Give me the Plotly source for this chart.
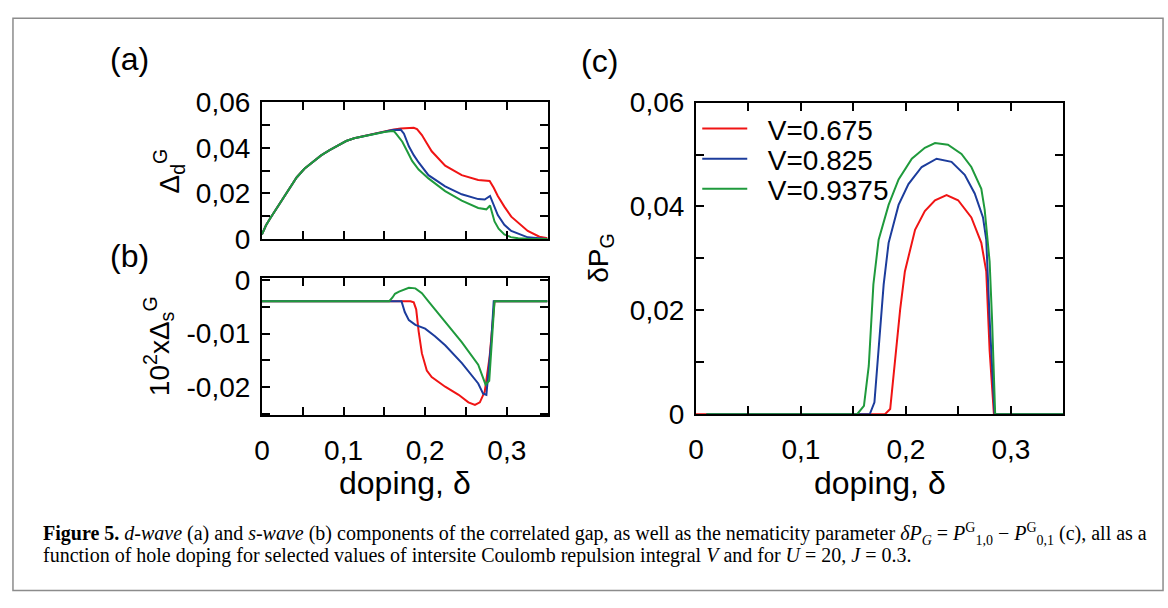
import plotly.graph_objects as go

W, H = 1168, 608

# ---------------- data ----------------
labels = ["V=0.675", "V=0.825", "V=0.9375"]
colors = ["#f01414", "#1c3c9c", "#1f9a3c"]

# panel (a): d-wave gap
rise_x = [0.0, 0.005, 0.01, 0.015, 0.0223, 0.03, 0.0425, 0.052, 0.0627, 0.0725, 0.0829, 0.093, 0.1032, 0.113, 0.1234, 0.133, 0.1436, 0.15]
rise_y = [0.002, 0.006, 0.009, 0.0118, 0.016, 0.0205, 0.027, 0.0308, 0.034, 0.0367, 0.039, 0.041, 0.043, 0.0442, 0.045, 0.046, 0.0467, 0.047]

a_red_x = rise_x + [0.16, 0.17, 0.18, 0.186, 0.19, 0.196, 0.202, 0.208, 0.2245, 0.2448, 0.265, 0.279, 0.284, 0.289, 0.297, 0.3055, 0.3257, 0.34, 0.35]
a_red_y = rise_y[:-1] + [0.0473, 0.048, 0.0485, 0.0487, 0.0488, 0.0482, 0.0456, 0.042, 0.0385, 0.0322, 0.028, 0.0259, 0.0255, 0.0225, 0.0189, 0.0142, 0.0098, 0.0035, 0.001, 0.0003]
a_blue_x = rise_x + [0.16, 0.17, 0.174, 0.18, 0.186, 0.192, 0.204, 0.2245, 0.2448, 0.265, 0.273, 0.2795, 0.284, 0.289, 0.297, 0.3055, 0.3257, 0.35]
a_blue_y = rise_y[:-1] + [0.0472, 0.0478, 0.048, 0.0462, 0.0407, 0.0368, 0.0336, 0.028, 0.0231, 0.0196, 0.0175, 0.0173, 0.0189, 0.0145, 0.0105, 0.0062, 0.0035, 0.0007, 0.0]
a_green_x = rise_x + [0.16, 0.162, 0.166, 0.172, 0.178, 0.184, 0.192, 0.204, 0.2245, 0.2448, 0.265, 0.275, 0.2795, 0.285, 0.29, 0.297, 0.305, 0.314, 0.325, 0.35]
a_green_y = rise_y[:-1] + [0.047, 0.0474, 0.0472, 0.0455, 0.0427, 0.0385, 0.0343, 0.0305, 0.0266, 0.021, 0.0168, 0.0136, 0.013, 0.0147, 0.0077, 0.0045, 0.002, 0.0008, 0.0003, 0.0001, 0.0]

# panel (b): s-wave gap (x 10^2)
b_red_x = [0.0, 0.182, 0.186, 0.189, 0.192, 0.196, 0.202, 0.208, 0.2245, 0.241, 0.253, 0.261, 0.267, 0.273, 0.279, 0.283, 0.285, 0.35]
b_red_y = [-0.004, -0.004, -0.0042, -0.0055, -0.0096, -0.0137, -0.0169, -0.0181, -0.0199, -0.0214, -0.0228, -0.0233, -0.0228, -0.0208, -0.0143, -0.0066, -0.004, -0.004]
b_blue_x = [0.0, 0.171, 0.175, 0.18, 0.188, 0.2, 0.212, 0.2245, 0.245, 0.265, 0.271, 0.275, 0.281, 0.284, 0.35]
b_blue_y = [-0.004, -0.004, -0.006, -0.0075, -0.0084, -0.0091, -0.0105, -0.0122, -0.0155, -0.0193, -0.0212, -0.0214, -0.0114, -0.004, -0.004]
b_green_x = [0.0, 0.156, 0.16, 0.163, 0.168, 0.175, 0.18, 0.188, 0.196, 0.204, 0.2245, 0.2448, 0.265, 0.274, 0.2785, 0.283, 0.285, 0.35]
b_green_y = [-0.004, -0.004, -0.0033, -0.0026, -0.0022, -0.0018, -0.0015, -0.0016, -0.0025, -0.004, -0.0078, -0.0116, -0.0158, -0.0195, -0.0188, -0.0084, -0.004, -0.004]

# panel (c): nematicity parameter
c_red_x = [0.0, 0.18, 0.185, 0.189, 0.1945, 0.199, 0.2087, 0.218, 0.2277, 0.2387, 0.2497, 0.2623, 0.2718, 0.2765, 0.2797, 0.2838, 0.35]
c_red_y = [0.0, 0.0, 0.001, 0.0093, 0.0202, 0.0275, 0.0355, 0.0391, 0.0412, 0.0422, 0.0412, 0.0379, 0.033, 0.0275, 0.0123, 0.0, 0.0]
c_blue_x = [0.01, 0.1655, 0.17, 0.174, 0.1788, 0.1835, 0.193, 0.2024, 0.215, 0.2292, 0.2434, 0.256, 0.2655, 0.2734, 0.2765, 0.2797, 0.2844, 0.35]
c_blue_y = [0.0, 0.0, 0.0023, 0.0123, 0.025, 0.033, 0.0403, 0.0443, 0.0476, 0.0492, 0.0486, 0.0461, 0.0425, 0.0379, 0.0336, 0.0184, 0.0, 0.0]
c_green_x = [0.01, 0.1535, 0.16, 0.1646, 0.169, 0.174, 0.1835, 0.193, 0.2056, 0.218, 0.2277, 0.24, 0.2529, 0.2623, 0.2718, 0.275, 0.2797, 0.282, 0.285, 0.35]
c_green_y = [0.0, 0.0, 0.0016, 0.0093, 0.025, 0.0336, 0.0403, 0.0452, 0.0492, 0.0513, 0.0522, 0.0519, 0.0501, 0.0476, 0.0434, 0.0394, 0.0294, 0.0184, 0.0, 0.0]

# ticks
x_tickvals = [0, 0.05, 0.1, 0.15, 0.2, 0.25, 0.3, 0.35]
x_ticktext = ["0", "", "0,1", "", "0,2", "", "0,3", ""]
x_ticktext_none = [""] * 8
y_tickvals_pos = [0, 0.01, 0.02, 0.03, 0.04, 0.05, 0.06]
y_ticktext_pos = ["0", "", "0,02", "", "0,04", "", "0,06"]
y_tickvals_b = [0, -0.005, -0.01, -0.015, -0.02, -0.025]
y_ticktext_b = ["0", "", "-0,01", "", "-0,02", ""]

# ---------------- figure ----------------
FONT = "Liberation Sans, Arial, sans-serif"
NB = "\u00a0\u00a0"
fig = go.Figure()

legend_ids = ["legend", "legend2", "legend3"]
panels = [
    ("x", "y", [(a_red_x, a_red_y), (a_blue_x, a_blue_y), (a_green_x, a_green_y)], False),
    ("x2", "y2", [(b_red_x, b_red_y), (b_blue_x, b_blue_y), (b_green_x, b_green_y)], False),
    ("x3", "y3", [(c_red_x, c_red_y), (c_blue_x, c_blue_y), (c_green_x, c_green_y)], True),
]
for xa, ya, series, leg in panels:
    for (xs, ys), lab, col, lid in zip(series, labels, colors, legend_ids):
        fig.add_trace(go.Scatter(x=xs, y=ys, mode="lines", name=NB + lab,
                                 line=dict(color=col, width=2),
                                 xaxis=xa, yaxis=ya, showlegend=leg, legend=lid))

def px_x(p):
    return p / W

def px_y(p):
    return 1 - p / H

common = dict(showgrid=False, zeroline=False, showline=True, linecolor="black",
              linewidth=2, mirror="ticks", ticks="inside", ticklen=8, tickwidth=2,
              tickcolor="black", tickmode="array",
              tickfont=dict(family=FONT, size=28, color="black"))

xa_dom = [px_x(255.7), px_x(543.3)]
xc_dom = [px_x(692.7), px_x(1062.7)]

leg_common = dict(xanchor="left", yanchor="middle", bgcolor="rgba(0,0,0,0)",
                  font=dict(family=FONT, size=28, color="black"), itemwidth=45)

fig.update_layout(
    width=W, height=H, autosize=False,
    margin=dict(l=0, r=0, t=0, b=0),
    paper_bgcolor="white", plot_bgcolor="white",
    xaxis=dict(domain=xa_dom, range=[0, 0.35], anchor="y", tickvals=x_tickvals,
               ticktext=x_ticktext_none, **common),
    yaxis=dict(domain=[px_y(236), px_y(92)], range=[0, 0.06], anchor="x",
               tickvals=y_tickvals_pos, ticktext=y_ticktext_pos, ticklabelstandoff=4, **common),
    xaxis2=dict(domain=xa_dom, range=[0, 0.35], anchor="y2", tickvals=x_tickvals,
                ticktext=x_ticktext, ticklabelstandoff=9, **common),
    yaxis2=dict(domain=[px_y(421.7), px_y(277.3)], range=[-0.0252, 0.0003], anchor="x2",
                tickvals=y_tickvals_b, ticktext=y_ticktext_b, ticklabelstandoff=4, **common),
    xaxis3=dict(domain=xc_dom, range=[0, 0.35], anchor="y3", tickvals=x_tickvals,
                ticktext=x_ticktext, ticklabelstandoff=9, **common),
    yaxis3=dict(domain=[px_y(420.7), px_y(92.3)], range=[0, 0.06], anchor="x3",
                tickvals=y_tickvals_pos, ticktext=y_ticktext_pos, ticklabelstandoff=4, **common),
    legend=dict(x=px_x(694), y=px_y(120), **leg_common),
    legend2=dict(x=px_x(694), y=px_y(151.7), **leg_common),
    legend3=dict(x=px_x(694), y=px_y(183.3), **leg_common),
    showlegend=True,
)

ann = []
def text(x, y, s, size, angle=0, family=FONT, xanchor="center"):
    ann.append(dict(x=x, y=y, xref="paper", yref="paper", text=s, showarrow=False,
                    textangle=angle, xanchor=xanchor, yanchor="middle",
                    font=dict(family=family, size=size, color="black")))

text(px_x(122.5), px_y(46), "(a)", 32)
text(px_x(122.5), px_y(254), "(b)", 32)
text(px_x(596), px_y(48), "(c)", 32)
text(px_x(162), px_y(164), "Δ<sub>d</sub><sup>G</sup>", 28, -90)
text(px_x(152), px_y(349), "10<sup>2</sup>xΔ<sub>s</sub><sup>G</sup>", 28, -90)
text(px_x(597), px_y(256), "δP<sub>G</sub>", 28, -90)
text(px_x(399.5), px_y(493), "doping, δ", 32)
text(px_x(877.7), px_y(493), "doping, δ", 32)

SERIF = "Liberation Serif, Times New Roman, serif"
cap1 = ("<b>Figure 5.</b> <i>d-wave</i> (a) and <i>s-wave</i> (b) components of the correlated gap, "
        "as well as the nematicity parameter <i>δP<sub>G</sub></i> = <i>P</i><sup>G</sup><sub>1,0</sub> − "
        "<i>P</i><sup>G</sup><sub>0,1</sub> (c), all as a")
cap2 = ("function of hole doping for selected values of intersite Coulomb repulsion integral "
        "<i>V</i> and for <i>U</i> = 20, <i>J</i> = 0.3.")
text(px_x(33), px_y(547), cap1, 20, family=SERIF, xanchor="left")
text(px_x(33), px_y(570), cap2, 20, family=SERIF, xanchor="left")
fig.update_layout(annotations=ann)

fig.add_shape(type="rect", xref="paper", yref="paper",
              x0=px_x(5), x1=px_x(1163), y0=px_y(606.5), y1=px_y(3.5),
              line=dict(color="#8c8c8c", width=1.5), fillcolor="rgba(0,0,0,0)")

fig.write_html("out.html")
